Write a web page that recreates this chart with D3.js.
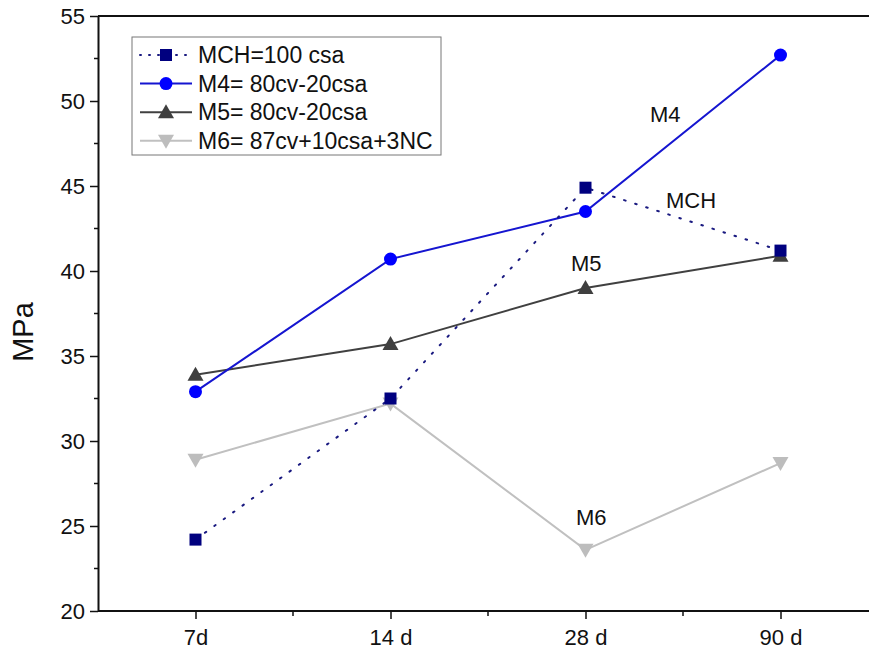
<!DOCTYPE html>
<html>
<head>
<meta charset="utf-8">
<script src="https://cdn.jsdelivr.net/npm/d3@7"></script>
<style>
  body { margin: 0; background: #fff; }
  svg { display: block; font-family: "Liberation Sans", Arial, sans-serif; }
</style>
</head>
<body>
<main></main>
<script>
var ages = ["7d", "14 d", "28 d", "90 d"]
var mch = [24.2, 32.5, 44.9, 41.2]
var m4 = [32.9, 40.7, 43.5, 52.7]
var m5 = [33.9, 35.7, 39.0, 40.9]
var m6 = [28.9, 32.2, 23.6, 28.7]
var yTicks = [20, 25, 30, 35, 40, 45, 50, 55]
var seriesNames = ["MCH=100 csa", "M4= 80cv-20csa", "M5= 80cv-20csa", "M6= 87cv+10csa+3NC"]
var curveLabels = ["MCH", "M4", "M5", "M6"]

var series = [
  {name: seriesNames[0], label: curveLabels[0], values: mch, color: "#00007f", line: "#1a1a80", shape: "square", dash: "1.6,10"},
  {name: seriesNames[1], label: curveLabels[1], values: m4, color: "#0000ff", line: "#1515d0", shape: "circle", dash: null},
  {name: seriesNames[2], label: curveLabels[2], values: m5, color: "#3f3f3f", line: "#404040", shape: "up", dash: null},
  {name: seriesNames[3], label: curveLabels[3], values: m6, color: "#bdbdbd", line: "#c0c0c0", shape: "down", dash: null}
]

var svg = d3.select("main").append("svg")
    .attr("width", 869)
    .attr("height", 652)

var plotL = 98, plotR = 878, plotT = 16, plotB = 611

var x = d3.scalePoint().domain(ages).range([plotL, plotR]).padding(0.5)
var y = d3.scaleLinear().domain([20, 55]).range([plotB, plotT])
var step = x.step()

// frame top line
svg.append("line")
    .attr("x1", plotL).attr("x2", plotR)
    .attr("y1", plotT).attr("y2", plotT)
    .attr("stroke", "#111").attr("stroke-width", 2)

// y axis
var yAxis = svg.append("g")
    .attr("transform", "translate(" + plotL + ",0)")
    .call(d3.axisLeft(y).tickValues(yTicks).tickSize(8).tickSizeOuter(0).tickPadding(5))
yAxis.attr("font-size", 22).attr("font-family", "Liberation Sans, Arial, sans-serif")
yAxis.select(".domain").attr("stroke", "#111").attr("stroke-width", 2)
yAxis.selectAll(".tick line").attr("stroke", "#111").attr("stroke-width", 1.5)
yAxis.selectAll(".tick text").attr("fill", "#111")

var yMinor = yTicks.slice(0, -1).map(function(d) { return d + 2.5 })
svg.append("g").selectAll("line").data(yMinor).enter().append("line")
    .attr("x1", plotL - 4).attr("x2", plotL)
    .attr("y1", function(d) { return y(d) }).attr("y2", function(d) { return y(d) })
    .attr("stroke", "#111").attr("stroke-width", 1.5)

// x axis
var xAxis = svg.append("g")
    .attr("transform", "translate(0," + plotB + ")")
    .call(d3.axisBottom(x).tickSize(8).tickSizeOuter(0).tickPadding(10))
xAxis.attr("font-size", 22).attr("font-family", "Liberation Sans, Arial, sans-serif")
xAxis.select(".domain").attr("stroke", "#111").attr("stroke-width", 2)
    .attr("d", "M" + plotL + ",0H" + plotR)
xAxis.selectAll(".tick line").attr("stroke", "#111").attr("stroke-width", 1.5)
xAxis.selectAll(".tick text").attr("fill", "#111")

svg.append("g").selectAll("line").data(ages.slice(0, -1)).enter().append("line")
    .attr("x1", function(d) { return x(d) + step / 2 })
    .attr("x2", function(d) { return x(d) + step / 2 })
    .attr("y1", plotB).attr("y2", plotB + 5)
    .attr("stroke", "#111").attr("stroke-width", 1.5)

// y title
svg.append("text")
    .attr("transform", "translate(33,332) rotate(-90)")
    .attr("text-anchor", "middle")
    .attr("font-size", 29)
    .attr("fill", "#111")
    .text("MPa")

function marker(g, shape, color) {
  if (shape === "square") {
    g.append("rect").attr("x", -6).attr("y", -6).attr("width", 12).attr("height", 12).attr("fill", color)
  } else if (shape === "circle") {
    g.append("circle").attr("r", 6.5).attr("fill", color)
  } else if (shape === "up") {
    g.append("path").attr("d", "M0,-8L8,6L-8,6Z").attr("fill", color)
  } else {
    g.append("path").attr("d", "M0,8L8,-6L-8,-6Z").attr("fill", color)
  }
}

var line = d3.line()
    .x(function(d, i) { return x(ages[i]) })
    .y(function(d) { return y(d) })

// draw from back to front: M6, M5, M4, MCH
var order = [3, 2, 1, 0]
order.forEach(function(k) {
  var s = series[k]
  svg.append("path")
      .datum(s.values)
      .attr("d", line)
      .attr("fill", "none")
      .attr("stroke", s.line)
      .attr("stroke-width", 2)
      .attr("stroke-linecap", s.dash ? "round" : "butt")
      .attr("stroke-dasharray", s.dash)
})
order.forEach(function(k) {
  var s = series[k]
  s.values.forEach(function(v, i) {
    var g = svg.append("g").attr("transform", "translate(" + x(ages[i]) + "," + y(v) + ")")
    marker(g, s.shape, s.color)
  })
})

// curve labels
var labelPos = [[666, 208], [650, 122], [571, 271], [576, 525]]
svg.append("g").selectAll("text").data(curveLabels).enter().append("text")
    .attr("x", function(d, i) { return labelPos[i][0] })
    .attr("y", function(d, i) { return labelPos[i][1] })
    .attr("font-size", 22)
    .attr("fill", "#111")
    .text(function(d) { return d })

// legend
var legend = svg.append("g").attr("transform", "translate(132,37)")
legend.append("rect")
    .attr("width", 309).attr("height", 118)
    .attr("fill", "#fff").attr("stroke", "#777").attr("stroke-width", 1)

var rows = legend.selectAll("g.row").data(series).enter().append("g")
    .attr("class", "row")
    .attr("transform", function(d, i) { return "translate(0," + (18 + i * 28.6) + ")" })

rows.append("line")
    .attr("x1", 8).attr("x2", 60)
    .attr("stroke", function(d) { return d.line })
    .attr("stroke-width", 2)
    .attr("stroke-linecap", function(d) { return d.dash ? "round" : "butt" })
    .attr("stroke-dasharray", function(d) { return d.dash ? "1,8" : null })
rows.each(function(d) {
  var g = d3.select(this).append("g").attr("transform", "translate(34,0)")
  marker(g, d.shape, d.color)
})
rows.append("text")
    .attr("x", 66).attr("y", 8)
    .attr("font-size", 23)
    .attr("fill", "#111")
    .text(function(d) { return d.name })
</script>
</body>
</html>
